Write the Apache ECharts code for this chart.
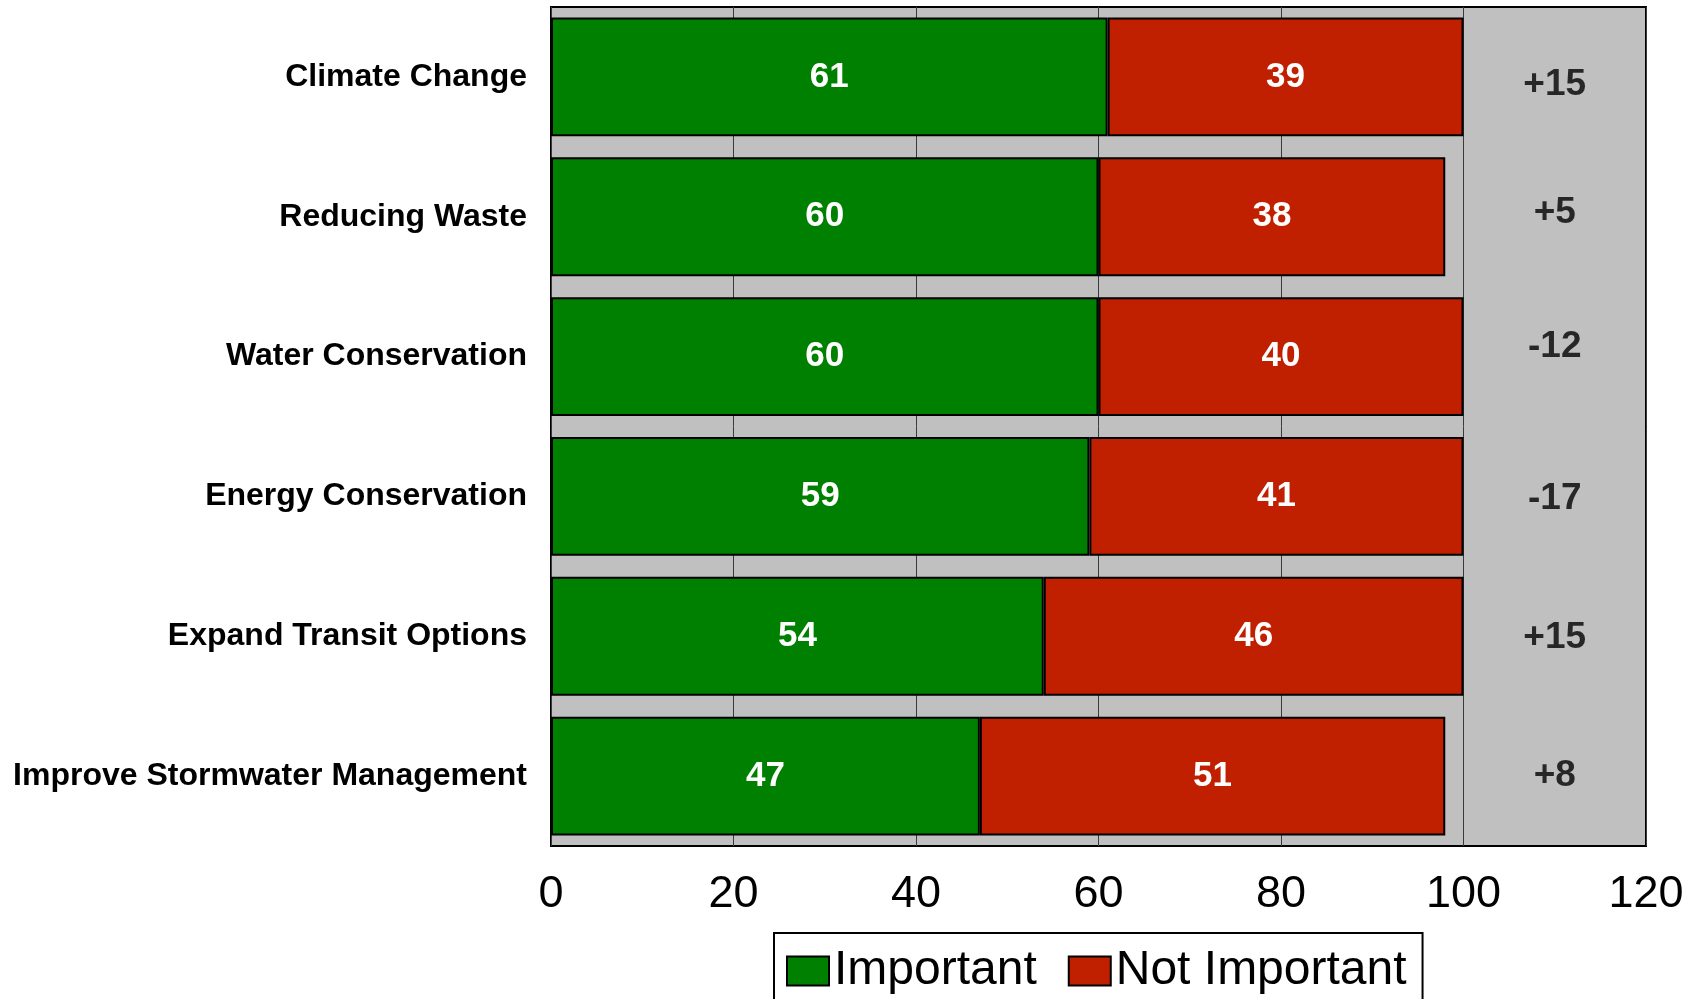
<!DOCTYPE html>
<html>
<head>
<meta charset="utf-8">
<script src="https://cdn.jsdelivr.net/npm/echarts@6/dist/echarts.min.js"></script>
<style>
  html, body { margin: 0; padding: 0; background: #ffffff; }
  #chart { width: 1700px; height: 999px; }
</style>
</head>
<body>
<div id="chart"></div>
<script>
// Survey: how important each environmental topic is
const categories = [
  'Climate Change',
  'Reducing Waste',
  'Water Conservation',
  'Energy Conservation',
  'Expand Transit Options',
  'Improve Stormwater Management'
];
const important = [61, 60, 60, 59, 54, 47];
const notImportant = [39, 38, 40, 41, 46, 51];
const netChange = [15, 5, -12, -17, 15, 8];
const xTicks = [0, 20, 40, 60, 80, 100, 120];

// the net-change column sits in the middle of the 100–120 strip
const NET_COLUMN_X = 110;
// small vertical nudges (px) for the net-change labels
const netLabelNudge = [8, -4, -10, 2, 2, 0];

const FONT = '"Liberation Sans", Arial, sans-serif';

const chart = echarts.init(document.getElementById('chart'), null, { renderer: 'canvas' });

const barBorder = { borderColor: '#000000', borderWidth: 2 };
const valueLabel = {
  show: true,
  position: 'inside',
  color: '#ffffff',
  fontFamily: FONT,
  fontWeight: 'bold',
  fontSize: 35
};

chart.setOption({
  animation: false,
  backgroundColor: '#ffffff',
  grid: {
    left: 551,
    right: 54,
    top: 7,
    bottom: 153,
    show: true,
    backgroundColor: '#c0c0c0',
    borderColor: '#000000',
    borderWidth: 2,
    containLabel: false
  },
  xAxis: {
    type: 'value',
    min: xTicks[0],
    max: xTicks[xTicks.length - 1],
    interval: xTicks[1] - xTicks[0],
    axisLine: { show: false },
    axisTick: { show: false },
    splitLine: { show: true, lineStyle: { color: '#3a3a3a', width: 1 } },
    axisLabel: {
      color: '#000000',
      fontFamily: FONT,
      fontSize: 45,
      margin: 26,
      formatter: v => (xTicks.indexOf(v) >= 0 ? String(v) : '')
    }
  },
  yAxis: {
    type: 'category',
    data: categories,
    inverse: true,
    axisLine: { show: false },
    axisTick: { show: false },
    splitLine: { show: false },
    axisLabel: {
      color: '#000000',
      fontFamily: FONT,
      fontWeight: 'bold',
      fontSize: 32,
      margin: 24
    }
  },
  legend: {
    left: 774,
    top: 933,
    orient: 'horizontal',
    padding: [14, 16, 30, 12],
    backgroundColor: '#ffffff',
    borderColor: '#000000',
    borderWidth: 2,
    borderRadius: 0,
    itemWidth: 42,
    itemHeight: 29,
    itemGap: 31,
    icon: 'rect',
    textStyle: { color: '#000000', fontFamily: FONT, fontSize: 48 },
    data: ['Important', 'Not Important']
  },
  series: [
    {
      name: 'Important',
      type: 'bar',
      stack: 'total',
      barCategoryGap: '15%',
      data: important,
      itemStyle: Object.assign({ color: '#008000' }, barBorder),
      label: valueLabel
    },
    {
      name: 'Not Important',
      type: 'bar',
      stack: 'total',
      barCategoryGap: '15%',
      data: notImportant,
      itemStyle: Object.assign({ color: '#c02000' }, barBorder),
      label: valueLabel
    },
    {
      name: 'Net change',
      type: 'scatter',
      symbolSize: 0,
      silent: true,
      data: netChange.map((v, i) => ({
        value: [NET_COLUMN_X, categories[i], v],
        label: { offset: [0, netLabelNudge[i]] }
      })),
      label: {
        show: true,
        position: 'inside',
        color: '#000000',
        fontFamily: FONT,
        fontWeight: 'bold',
        fontSize: 37,
        formatter: p => (p.value[2] > 0 ? '+' : '') + p.value[2]
      }
    }
  ]
});
</script>
</body>
</html>
